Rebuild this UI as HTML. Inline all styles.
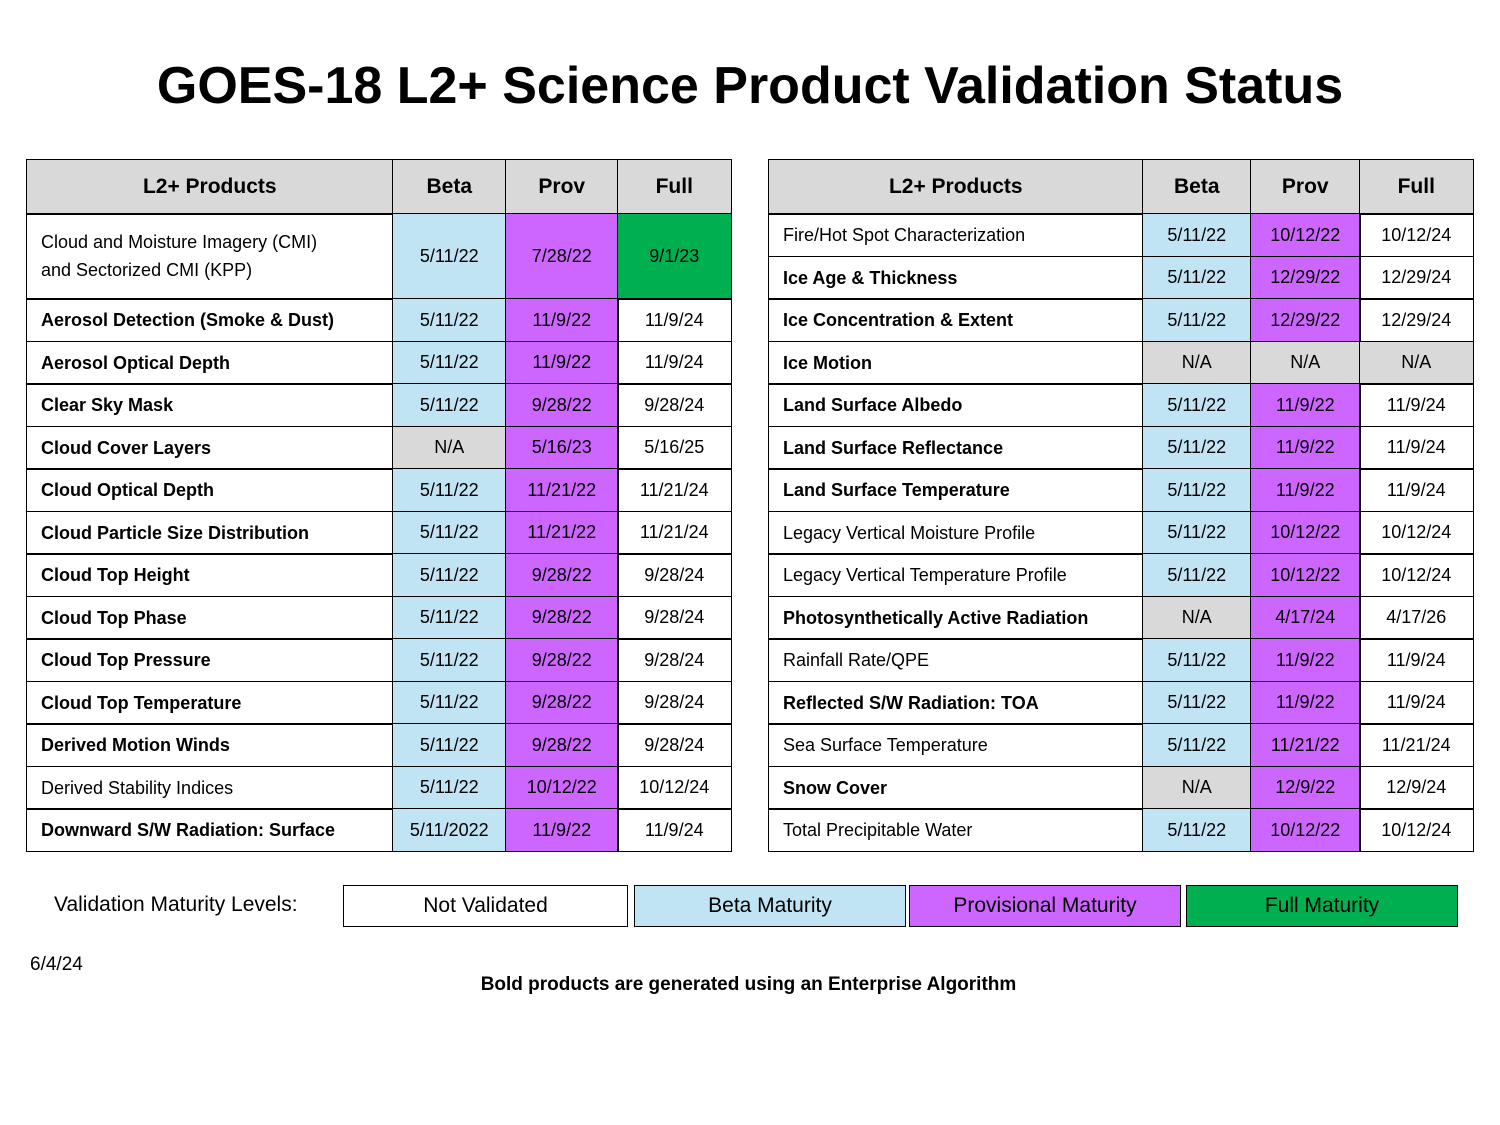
<!DOCTYPE html>
<html><head><meta charset="utf-8"><style>
body{margin:0;width:1500px;height:1125px;background:#fff;font-family:"Liberation Sans",sans-serif;position:relative;overflow:hidden;color:#000}
.c{position:absolute;box-sizing:border-box;border:1.5px solid #000;display:flex;align-items:center;justify-content:center;font-size:18px}
.n{justify-content:flex-start;padding-left:14px;line-height:28px}
.h{background:#d9d9d9;font-weight:bold;font-size:21px}
.b{background:#c1e4f5}.p{background:#cc66ff}.g{background:#00b050}.x{background:#d9d9d9}
.lg{position:absolute;box-sizing:border-box;border:1.5px solid #000;top:885px;height:42px;display:flex;align-items:center;justify-content:center;font-size:21px}
</style></head><body>
<div style="position:absolute;top:56px;left:0;width:1500px;text-align:center;font-weight:bold;font-size:52px;">GOES-18 L2+ Science Product Validation Status</div>
<div id="tables"></div>
<div style="position:absolute;left:54px;top:893px;font-size:21px">Validation Maturity Levels:</div>
<div class="lg" style="left:343px;width:285px">Not Validated</div>
<div class="lg b" style="left:634px;width:272px">Beta Maturity</div>
<div class="lg p" style="left:909px;width:272px">Provisional Maturity</div>
<div class="lg g" style="left:1186px;width:272px">Full Maturity</div>
<div style="position:absolute;left:30px;top:954px;font-size:19px">6/4/24</div>
<div style="position:absolute;left:0;width:1497px;text-align:center;top:974px;font-size:19px;font-weight:bold">Bold products are generated using an Enterprise Algorithm</div>
<script>
const leftNames=["Cloud and Moisture Imagery (CMI)<br>and Sectorized CMI (KPP)","Aerosol Detection (Smoke & Dust)","Aerosol Optical Depth","Clear Sky Mask","Cloud Cover Layers","Cloud Optical Depth","Cloud Particle Size Distribution","Cloud Top Height","Cloud Top Phase","Cloud Top Pressure","Cloud Top Temperature","Derived Motion Winds","Derived Stability Indices","Downward S/W Radiation: Surface"];
const leftBold=[0,1,1,1,1,1,1,1,1,1,1,1,0,1];
const leftBeta=["5/11/22","5/11/22","5/11/22","5/11/22","N/A","5/11/22","5/11/22","5/11/22","5/11/22","5/11/22","5/11/22","5/11/22","5/11/22","5/11/2022"];
const leftProv=["7/28/22","11/9/22","11/9/22","9/28/22","5/16/23","11/21/22","11/21/22","9/28/22","9/28/22","9/28/22","9/28/22","9/28/22","10/12/22","11/9/22"];
const leftFull=["9/1/23","11/9/24","11/9/24","9/28/24","5/16/25","11/21/24","11/21/24","9/28/24","9/28/24","9/28/24","9/28/24","9/28/24","10/12/24","11/9/24"];
const rightNames=["Fire/Hot Spot Characterization","Ice Age & Thickness","Ice Concentration & Extent","Ice Motion","Land Surface Albedo","Land Surface Reflectance","Land Surface Temperature","Legacy Vertical Moisture Profile","Legacy Vertical Temperature Profile","Photosynthetically Active Radiation","Rainfall Rate/QPE","Reflected S/W Radiation: TOA","Sea Surface Temperature","Snow Cover","Total Precipitable Water"];
const rightBold=[0,1,1,1,1,1,1,0,0,1,0,1,0,1,0];
const rightBeta=["5/11/22","5/11/22","5/11/22","N/A","5/11/22","5/11/22","5/11/22","5/11/22","5/11/22","N/A","5/11/22","5/11/22","5/11/22","N/A","5/11/22"];
const rightProv=["10/12/22","12/29/22","12/29/22","N/A","11/9/22","11/9/22","11/9/22","10/12/22","10/12/22","4/17/24","11/9/22","11/9/22","11/21/22","12/9/22","10/12/22"];
const rightFull=["10/12/24","12/29/24","12/29/24","N/A","11/9/24","11/9/24","11/9/24","10/12/24","10/12/24","4/17/26","11/9/24","11/9/24","11/21/24","12/9/24","10/12/24"];
const root=document.getElementById('tables');
function cell(x,y,w,h,cls,html,name){const d=document.createElement('div');d.className='c '+cls;


d.style.cssText=`left:${x}px;top:${y}px;width:${w+1.5}px;height:${h+1.5}px`;d.innerHTML=html;root.appendChild(d);}
function table(cols,rows,names,bold,beta,prov,full,side){
 const hd=["L2+ Products","Beta","Prov","Full"];
 for(let i=0;i<4;i++)cell(cols[i],159,cols[i+1]-cols[i],54,'h',hd[i],side+'-header-'+hd[i].toLowerCase().replace(/[^a-z]+/g,'-'));
 for(let r=0;r<names.length;r++){
  const y=rows[r],h=rows[r+1]-rows[r];
  cell(cols[0],y,cols[1]-cols[0],h,'n',`<span style="font-weight:${bold[r]?'bold':'normal'}">${names[r]}</span>`,side+'-product-name');
  cell(cols[1],y,cols[2]-cols[1],h,beta[r]==='N/A'?'x':'b',beta[r],side+'-beta-date');
  cell(cols[2],y,cols[3]-cols[2],h,prov[r]==='N/A'?'x':'p',prov[r],side+'-prov-date');
  const fc=full[r]==='N/A'?'x':(r===0&&side==='left'?'g':'');
  cell(cols[3],y,cols[4]-cols[3],h,fc,full[r],side+'-full-date');
 }
}
const lr=[213];lr.push(298);for(let i=1;i<=13;i++)lr.push(298+i*553/13);
const rr=[];for(let i=0;i<=15;i++)rr.push(213+i*638/15);
table([26,392,505,617,730],lr,leftNames,leftBold,leftBeta,leftProv,leftFull,'left');
table([768,1142,1250,1359,1472],rr,rightNames,rightBold,rightBeta,rightProv,rightFull,'right');
</script>
</body></html>
